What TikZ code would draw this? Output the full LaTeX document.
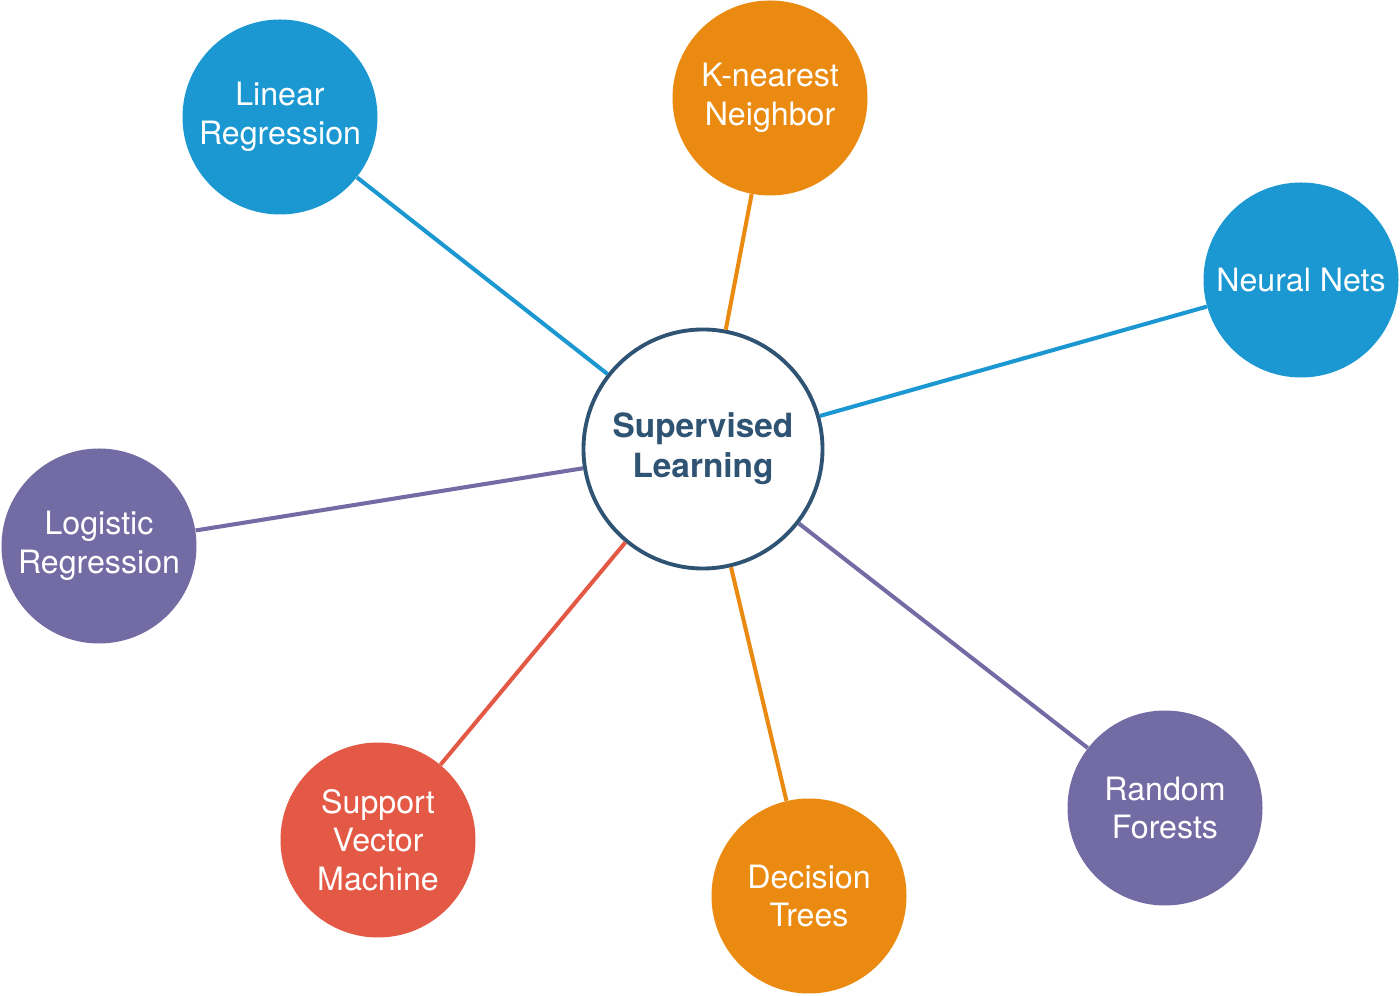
\documentclass[tikz,border=0pt]{standalone}
\usepackage{fontspec}
\setmainfont{TeX Gyre Heros}
\usetikzlibrary{positioning}
\definecolor{slBlue}{HTML}{1B98D1}
\definecolor{slOrange}{HTML}{EB8A10}
\definecolor{slPurple}{HTML}{736BA4}
\definecolor{slRed}{HTML}{E45946}
\definecolor{slNavy}{HTML}{2F5373}
\tikzset{
    base/.style={align=center, font=\fontsize{18.3}{22}\selectfont},
    hub/.style={base, circle, draw=slNavy, line width=2.2pt, fill=white,
                text=slNavy, minimum size=4.78cm, inner sep=0pt,
                font=\fontsize{19}{23}\selectfont\bfseries},
    method/.style={base, circle, text=white, minimum size=3.9cm, inner sep=0pt},
    link/.style={line width=2.3pt}
}
\begin{document}
\begin{tikzpicture}
  \useasboundingbox (0,0) rectangle (28,19.92);
  % centre
  \node[hub] (sl) at (14.06,10.94) {Supervised\\Learning};
  % methods
  \node[method, fill=slBlue] (linreg) at (5.60,17.58) {Linear\\Regression};
  \node[method, fill=slOrange] (knn) at (15.40,17.96) {K-nearest\\Neighbor};
  \node[method, fill=slBlue] (nnets) at (26.02,14.32) {Neural Nets};
  \node[method, fill=slPurple] (logreg) at (1.98,9.00) {Logistic\\Regression};
  \node[method, fill=slRed] (svm) at (7.56,3.12) {Support\\Vector\\Machine};
  \node[method, fill=slOrange] (dtree) at (16.18,2.00) {Decision\\Trees};
  \node[method, fill=slPurple] (rforest) at (23.30,3.76) {Random\\Forests};
  % links
  \draw[link, slBlue] (sl) -- (linreg);
  \draw[link, slOrange] (sl) -- (knn);
  \draw[link, slBlue] (sl) -- (nnets);
  \draw[link, slPurple] (sl) -- (logreg);
  \draw[link, slRed] (sl) -- (svm);
  \draw[link, slOrange] (sl) -- (dtree);
  \draw[link, slPurple] (sl) -- (rforest);
\end{tikzpicture}
\end{document}
